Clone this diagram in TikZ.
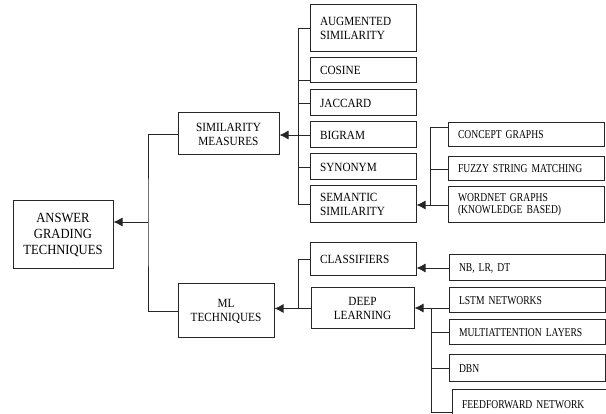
\documentclass[tikz,border=0pt]{standalone}
\usepackage{fontspec}
\setmainfont{Liberation Serif}[FakeStretch=0.9]
\newfontfamily\leaffont{Liberation Serif}[FakeStretch=0.8]
\usetikzlibrary{arrows.meta}
\tikzset{
  box/.style={draw=black!85, line width=1pt, inner sep=0pt, font=\fontsize{12.5}{14}\selectfont},
  midbox/.style={box, align=center},
  listbox/.style={box, align=left, inner xsep=10pt, text width=86pt, minimum height=26pt},
  leafbox/.style={box, align=left, inner xsep=10pt, text width=136pt, minimum height=25pt, font=\leaffont\fontsize{12}{12.5}\selectfont},
  link/.style={draw=black!85, line width=0.9pt},
  arr/.style={link, -{Latex[length=9pt,width=9pt]}},
}

\begin{document}
\begin{tikzpicture}[x=1pt, y=-1pt]
\useasboundingbox (0,0) rectangle (606,414);
% root and second level
\node[midbox, minimum width=100pt, minimum height=68pt, font=\fontsize{14}{16}\selectfont] (answer) at (63,235) {ANSWER\\GRADING\\TECHNIQUES};
\node[midbox, minimum width=101pt, minimum height=42pt] (simm) at (228.5,134) {SIMILARITY\\MEASURES};
\node[midbox, minimum width=96pt, minimum height=54pt] (mltech) at (226,311) {ML\\TECHNIQUES};
\coordinate (rootbus) at (148,222);
\draw[link] (simm.west) -| (rootbus) |- (mltech.west);
\draw[arr] (rootbus) -- (answer.east |- rootbus);

% similarity measures
\node[listbox, minimum height=47pt] (augm) at (363,28.5) {AUGMENTED\\SIMILARITY};
\node[listbox, minimum height=25pt] (cosine) at (363,70.5) {COSINE};
\node[listbox] (jaccard) at (363,103) {JACCARD};
\node[listbox] (bigram) at (363,135) {BIGRAM};
\node[listbox] (synonym) at (363,167) {SYNONYM};
\node[listbox, minimum height=37pt] (semsim) at (363,204.5) {SEMANTIC\\SIMILARITY};
\coordinate (simbus) at (298,0);
\draw[link] (augm.west -| simbus) -- (semsim.west -| simbus);
\foreach \n in {augm,jaccard,bigram,synonym,semsim}
  \draw[link] (\n.west) -- (\n.west -| simbus);
\draw[link] ([yshift=-10pt]cosine.west) -- ([yshift=-10pt]cosine.west -| simbus);
\draw[arr] (bigram.west -| simbus) -- (simm.east |- bigram.west);

% semantic similarity
\node[leafbox, minimum height=24pt] (concept) at (526,135) {CONCEPT GRAPHS};
\node[leafbox, minimum height=24pt] (fuzzy) at (526,169) {FUZZY STRING MATCHING};
\node[leafbox, minimum height=36pt] (wordnet) at (526,205) {WORDNET GRAPHS\\(KNOWLEDGE BASED)};
\coordinate (sembus) at (430,0);
\draw[link] ([yshift=8pt]concept.west) -| (wordnet.west -| sembus) -- (wordnet.west);
\draw[link] (fuzzy.west) -- (fuzzy.west -| sembus);
\draw[arr] (wordnet.west -| sembus) -- (semsim.east |- wordnet.west);

% ml techniques
\node[listbox, minimum height=33pt] (classif) at (363,259.5) {CLASSIFIERS};
\node[midbox, minimum width=103pt, minimum height=41pt] (deepl) at (362.5,308.5) {DEEP\\LEARNING};
\coordinate (mlbus) at (298,0);
\draw[link] (classif.west) -| (deepl.west -| mlbus) -- (deepl.west);
\draw[arr] (deepl.west -| mlbus) -- (mltech.east |- deepl.west);

\node[leafbox, minimum height=26pt] (nblrdt) at (527,268) {NB, LR, DT};
\draw[arr] (nblrdt.west) -- (classif.east |- nblrdt.west);

% deep learning
\node[leafbox] (lstm) at (527,300.5) {LSTM NETWORKS};
\node[leafbox] (multiatt) at (527,332.5) {MULTIATTENTION LAYERS};
\node[leafbox, minimum height=27pt] (dbn) at (527,368.5) {DBN};
\node[leafbox, minimum height=30pt] (ffnet) at (530,405) {FEEDFORWARD NETWORK};
\coordinate (dlbus) at (431,308);
\coordinate (dlend) at (431,412);
\draw[link] (lstm.west |- dlbus) -- (dlbus) -- (dlend) -- (dlend -| ffnet.west);
\draw[link] (multiatt.west) -- (multiatt.west -| dlbus);
\draw[link] (dbn.west) -- (dbn.west -| dlbus);
\draw[arr] (dlbus) -- (deepl.east |- dlbus);
\end{tikzpicture}
\end{document}
